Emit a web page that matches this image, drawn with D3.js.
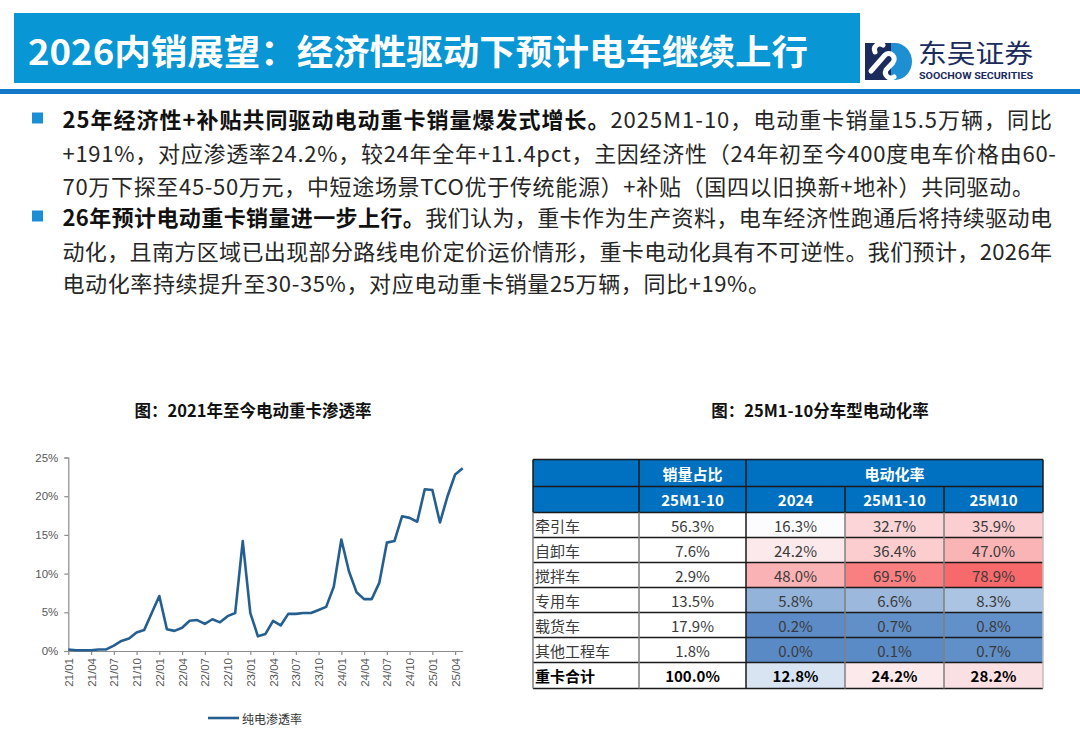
<!DOCTYPE html>
<html>
<head>
<meta charset="utf-8">
<script src="https://cdn.jsdelivr.net/npm/d3@7"></script>
<style>
  body { margin: 0; background: #fff; }
  svg { display: block; font-family: "Noto Sans CJK SC", "Noto Sans", sans-serif; }
</style>
</head>
<body>
<div id="slide"></div>
<script>
// ---- data ----
var months = ["21/01","21/02","21/03","21/04","21/05","21/06","21/07","21/08","21/09","21/10","21/11","21/12",
  "22/01","22/02","22/03","22/04","22/05","22/06","22/07","22/08","22/09","22/10","22/11","22/12",
  "23/01","23/02","23/03","23/04","23/05","23/06","23/07","23/08","23/09","23/10","23/11","23/12",
  "24/01","24/02","24/03","24/04","24/05","24/06","24/07","24/08","24/09","24/10","24/11","24/12",
  "25/01","25/02","25/03","25/04","25/05"];
// 纯电渗透率 (%)
var penetration = [0.2,0.1,0.1,0.1,0.2,0.2,0.7,1.3,1.6,2.4,2.7,4.9,
  7.1,2.8,2.6,3.0,3.9,4.0,3.5,4.1,3.7,4.5,4.9,14.2,
  4.9,1.9,2.2,3.9,3.3,4.8,4.8,4.9,4.9,5.3,5.7,8.3,
  14.4,10.3,7.6,6.7,6.7,8.8,14.0,14.2,17.4,17.2,16.7,20.9,
  20.8,16.6,20.0,22.8,23.6];
var yTicks = [0, 5, 10, 15, 20, 25];
var seriesName = "纯电渗透率";

var vehicleTypes = ["牵引车","自卸车","搅拌车","专用车","载货车","其他工程车","重卡合计"];
var salesShare = [56.3, 7.6, 2.9, 13.5, 17.9, 1.8, 100.0];
var rate2024 = [16.3, 24.2, 48.0, 5.8, 0.2, 0.0, 12.8];
var rate25M1_10 = [32.7, 36.4, 69.5, 6.6, 0.7, 0.1, 24.2];
var rate25M10 = [35.9, 47.0, 78.9, 8.3, 0.8, 0.7, 28.2];
var colHeads = ["25M1-10", "2024", "25M1-10", "25M10"];

var titleText = "2026内销展望：经济性驱动下预计电车继续上行";
var bodyLines = [
  {y: 118, end: 1052, bold: "25年经济性+补贴共同驱动电动重卡销量爆发式增长。", text: "2025M1-10，电动重卡销量15.5万辆，同比"},
  {y: 152, end: 1056, bold: "", text: "+191%，对应渗透率24.2%，较24年全年+11.4pct，主因经济性（24年初至今400度电车价格由60-"},
  {y: 185, end: 1034, bold: "", text: "70万下探至45-50万元，中短途场景TCO优于传统能源）+补贴（国四以旧换新+地补）共同驱动。"},
  {y: 216, end: 1052, bold: "26年预计电动重卡销量进一步上行。", text: "我们认为，重卡作为生产资料，电车经济性跑通后将持续驱动电"},
  {y: 250, end: 1052, bold: "", text: "动化，且南方区域已出现部分路线电价定价运价情形，重卡电动化具有不可逆性。我们预计，2026年"},
  {y: 282, end: 770, bold: "", text: "电动化率持续提升至30-35%，对应电动重卡销量25万辆，同比+19%。"}
];
var bulletRows = [0, 3];

var svg = d3.select("#slide").append("svg")
  .attr("width", 1080)
  .attr("height", 741);

// ---- header ----
svg.append("rect").attr("x", 14).attr("y", 13).attr("width", 846).attr("height", 70).attr("fill", "#0896D4");
svg.append("text")
  .attr("x", 28).attr("y", 49)
  .attr("dominant-baseline", "central")
  .attr("fill", "#fff")
  .attr("font-size", 35)
  .attr("font-weight", "bold")
  .attr("textLength", 780)
  .attr("lengthAdjust", "spacingAndGlyphs")
  .text(titleText);
svg.append("rect").attr("x", 0).attr("y", 89).attr("width", 1080).attr("height", 5).attr("fill", "#1478C8");

// logo
var logo = svg.append("g");
logo.append("rect").attr("x", 865).attr("y", 43).attr("width", 26).attr("height", 37).attr("fill", "#1B2B5E");
logo.append("path").attr("d", "M891,43 h4 a17,18.5 0 0 1 0,37 h-4 z").attr("fill", "#1E8FD2");
logo.append("path")
  .attr("d", "M871,71 L885,55 a5.5,5.5 0 0 1 8,7.5 L886,70 a5.5,5.5 0 0 0 8,7")
  .attr("fill", "none").attr("stroke", "#fff").attr("stroke-width", 5).attr("stroke-linecap", "round");
logo.append("path")
  .attr("d", "M875,52 a5.5,5.5 0 0 1 8,-7")
  .attr("fill", "none").attr("stroke", "#fff").attr("stroke-width", 5).attr("stroke-linecap", "round");
logo.append("text").attr("x", 918).attr("y", 63).attr("font-size", 26).attr("fill", "#1B2B5E")
  .attr("textLength", 115).attr("lengthAdjust", "spacingAndGlyphs").text("东吴证券");
logo.append("text").attr("x", 919).attr("y", 79).attr("font-size", 9.5).attr("font-weight", "bold").attr("fill", "#1B2B5E")
  .attr("font-family", "Roboto, 'Liberation Sans', sans-serif")
  .attr("textLength", 114).attr("lengthAdjust", "spacingAndGlyphs").text("SOOCHOW SECURITIES");

// ---- body text ----
bulletRows.forEach(function(i) {
  svg.append("rect").attr("x", 32).attr("y", bodyLines[i].y - 5.5).attr("width", 11).attr("height", 11).attr("fill", "#1A8FD6");
});
bodyLines.forEach(function(l) {
  var t = svg.append("text")
    .attr("x", 62.5).attr("y", l.y)
    .attr("dominant-baseline", "central")
    .attr("font-size", 22)
    .attr("fill", "#262626")
    .attr("textLength", l.end - 62.5)
    .attr("lengthAdjust", "spacing");
  if (l.bold) t.append("tspan").attr("font-weight", "bold").attr("fill", "#111").text(l.bold);
  t.append("tspan").text(l.text);
});

// ---- line chart ----
svg.append("text").attr("x", 253).attr("y", 410).attr("text-anchor", "middle").attr("dominant-baseline", "central")
  .attr("font-size", 16.5).attr("font-weight", "bold").attr("fill", "#111").text("图：2021年至今电动重卡渗透率");

var x = d3.scalePoint().domain(months).range([68.3, 462.7]);
var y = d3.scaleLinear().domain([0, 25]).range([651, 457.5]);

var yAxis = svg.append("g").attr("transform", "translate(68.3,0)")
  .call(d3.axisLeft(y).tickValues(yTicks).tickSize(4).tickPadding(6).tickFormat(function(d) { return d + "%"; }));
var xAxis = svg.append("g").attr("transform", "translate(0,651)")
  .call(d3.axisBottom(x).tickValues(months.filter(function(d, i) { return i % 3 == 0; })).tickSize(4).tickSizeOuter(0));
xAxis.selectAll("text")
  .attr("transform", "rotate(-90)")
  .attr("text-anchor", "end")
  .attr("dominant-baseline", "central")
  .attr("x", -7).attr("y", 0).attr("dy", null);
[yAxis, xAxis].forEach(function(a) {
  a.selectAll("path, line").attr("stroke", "#8C8C8C").attr("stroke-width", 1.2);
  a.selectAll("text").attr("font-size", 11.5).attr("fill", "#595959").attr("font-family", "'Liberation Sans', Arial, sans-serif");
});

var line = d3.line().x(function(d, i) { return x(months[i]); }).y(function(d) { return y(d); });
svg.append("path").datum(penetration)
  .attr("d", line)
  .attr("fill", "none")
  .attr("stroke", "#255E91")
  .attr("stroke-width", 2.6)
  .attr("stroke-linejoin", "round");

// legend
svg.append("line").attr("x1", 208).attr("x2", 239).attr("y1", 718).attr("y2", 718).attr("stroke", "#255E91").attr("stroke-width", 2.6);
svg.append("text").attr("x", 242).attr("y", 718).attr("dominant-baseline", "central").attr("font-size", 12).attr("fill", "#333").text(seriesName);

// ---- table ----
svg.append("text").attr("x", 820).attr("y", 410).attr("text-anchor", "middle").attr("dominant-baseline", "central")
  .attr("font-size", 16.5).attr("font-weight", "bold").attr("fill", "#111").text("图：25M1-10分车型电动化率");

var colX = [533, 639, 746, 845, 944, 1043];
var rowY = [459.5, 486.5, 512.5, 537.5, 562.5, 587.5, 612.5, 637.5, 662.5, 688.5];
var rateCols = [rate2024, rate25M1_10, rate25M10];
var allRates = d3.merge(rateCols);
// Excel style 3-color scale: min blue, median white, max red
var heat = d3.scaleLinear()
  .domain([d3.min(allRates), d3.median(allRates), d3.max(allRates)])
  .range(["#5A8AC6", "#FCFCFF", "#F8696B"]);

var table = svg.append("g");
table.append("rect").attr("x", colX[0]).attr("y", rowY[0]).attr("width", colX[5] - colX[0]).attr("height", rowY[2] - rowY[0]).attr("fill", "#0070C0");

vehicleTypes.forEach(function(name, r) {
  var top = rowY[r + 2], bot = rowY[r + 3], mid = (top + bot) / 2;
  var isTotal = r == vehicleTypes.length - 1;
  rateCols.forEach(function(col, c) {
    table.append("rect").attr("x", colX[c + 2]).attr("y", top).attr("width", colX[c + 3] - colX[c + 2]).attr("height", bot - top)
      .attr("fill", heat(col[r]));
  });
  var fw = isTotal ? "bold" : "normal";
  var fc = isTotal ? "#000" : "#3A3A3A";
  table.append("text").attr("x", colX[0] + 2).attr("y", mid).attr("dominant-baseline", "central")
    .attr("font-size", 15).attr("font-weight", fw).attr("fill", fc).text(name);
  var vals = [salesShare[r], rate2024[r], rate25M1_10[r], rate25M10[r]];
  vals.forEach(function(v, c) {
    table.append("text").attr("x", (colX[c + 1] + colX[c + 2]) / 2).attr("y", mid)
      .attr("text-anchor", "middle").attr("dominant-baseline", "central")
      .attr("font-size", 15).attr("font-weight", fw).attr("fill", fc).text(v.toFixed(1) + "%");
  });
});

// header text
table.append("text").attr("x", (colX[1] + colX[2]) / 2).attr("y", (rowY[0] + rowY[1]) / 2)
  .attr("text-anchor", "middle").attr("dominant-baseline", "central").attr("font-size", 15).attr("font-weight", "bold").attr("fill", "#fff").text("销量占比");
table.append("text").attr("x", (colX[2] + colX[5]) / 2).attr("y", (rowY[0] + rowY[1]) / 2)
  .attr("text-anchor", "middle").attr("dominant-baseline", "central").attr("font-size", 15).attr("font-weight", "bold").attr("fill", "#fff").text("电动化率");
colHeads.forEach(function(h, c) {
  table.append("text").attr("x", (colX[c + 1] + colX[c + 2]) / 2).attr("y", (rowY[1] + rowY[2]) / 2)
    .attr("text-anchor", "middle").attr("dominant-baseline", "central").attr("font-size", 15).attr("font-weight", "bold").attr("fill", "#fff").text(h);
});

// grid lines
rowY.forEach(function(yy) {
  table.append("line").attr("x1", colX[0]).attr("x2", colX[5]).attr("y1", yy).attr("y2", yy).attr("stroke", "#1a1a1a").attr("stroke-width", 1.5);
});
colX.forEach(function(xx, i) {
  var top = (i == 3 || i == 4) ? rowY[1] : rowY[0];
  table.append("line").attr("x1", xx).attr("x2", xx).attr("y1", top).attr("y2", rowY[2]).attr("stroke", "#1a1a1a").attr("stroke-width", 1.5);
  table.append("line").attr("x1", xx).attr("x2", xx).attr("y1", rowY[2]).attr("y2", rowY[9])
    .attr("stroke", i == 2 ? "#1a1a1a" : (i == 5 ? "#BFBFBF" : "#7F7F7F")).attr("stroke-width", 1.5);
});
</script>
</body>
</html>
